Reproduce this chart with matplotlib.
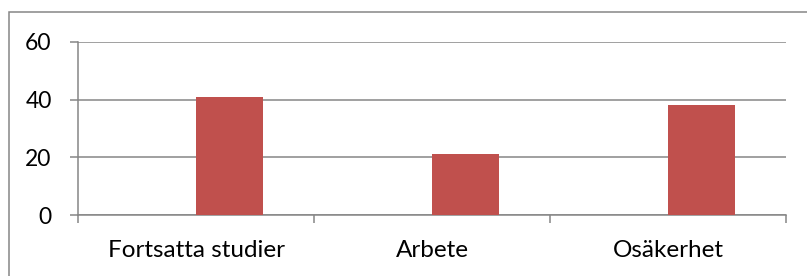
import numpy as np
import matplotlib.pyplot as plt
from matplotlib.patches import Rectangle

# data
kategorier = ['Fortsatta studier', 'Arbete', 'Osäkerhet']
andel = [41, 21, 38]
y_ticks = [0, 20, 40, 60]

plt.rcParams['font.family'] = ['Lato', 'DejaVu Sans']

fig = plt.figure(figsize=(8.07, 2.76), dpi=100)
ax = fig.add_axes([78 / 807, 61 / 276, 708 / 807, 173 / 276])

# Excel-layout: two series per category, first one is empty
bredd = 1 / 3.5
x = np.arange(len(kategorier))
ax.bar(x + bredd / 2, andel, width=bredd, color='#C0504D', zorder=3)

ax.set_xlim(-0.5, len(kategorier) - 0.5)
ax.set_ylim(0, 60)
ax.set_yticks(y_ticks)
ax.set_xticks(np.arange(len(kategorier) + 1) - 0.5)
ax.set_xticklabels([])
ax.set_xticks(x, minor=True)
ax.set_xticklabels(kategorier, minor=True)

grid_color = '#868686'
ax.grid(axis='y', color=grid_color, linewidth=1.1, zorder=0)
for side in ['top', 'right']:
    ax.spines[side].set_visible(False)
for side in ['left', 'bottom']:
    ax.spines[side].set_color(grid_color)
    ax.spines[side].set_linewidth(1.1)

ax.tick_params(axis='y', which='major', length=6, width=1.1, color=grid_color,
               labelsize=16.5, pad=13)
ax.tick_params(axis='x', which='major', length=6, width=1.1, color=grid_color)
ax.tick_params(axis='x', which='minor', length=0, labelsize=17.5, pad=18)

# chart area border (only top and left visible in the crop)
fig.patches.append(Rectangle((9 / 807, -0.1), 1.2, (276 - 12) / 276 + 0.1,
                             transform=fig.transFigure, fill=False,
                             edgecolor=grid_color, linewidth=1.1))

fig.savefig('out.png', dpi=100)
